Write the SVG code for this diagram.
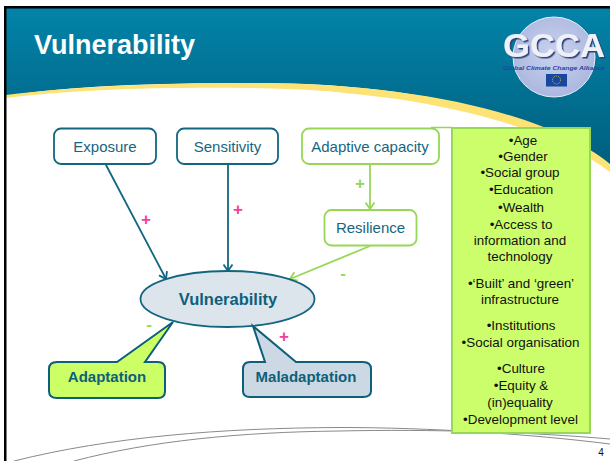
<svg xmlns="http://www.w3.org/2000/svg" width="610" height="461" viewBox="0 0 610 461">
<style>
text{font-family:"Liberation Sans",Arial,sans-serif;text-anchor:middle}
.lbl{font-size:15px;fill:#17667f}
.bold{font-size:15px;font-weight:bold;fill:#0e5f7a}
.list{font-size:13.4px;fill:#111}
.box{fill:#fff;stroke-width:1.8}
.teal{stroke:#13667f}
.green{stroke:#96d756}
.plus{font-size:17px;font-weight:bold;fill:#f83ba0}
.minus{font-size:17px;font-weight:bold;fill:#9cdb5c}
.cl{fill:none;stroke-width:1.8}
</style>
<defs>
<linearGradient id="band" x1="0" y1="0" x2="0" y2="1"><stop offset="0" stop-color="#0383a8"/><stop offset="1" stop-color="#005f7f"/></linearGradient>
<radialGradient id="globe" cx="0.5" cy="0.45" r="0.6"><stop offset="0" stop-color="#c9d2ee"/><stop offset="1" stop-color="#a9b5de"/></radialGradient>
<filter id="sh" x="-10%" y="-10%" width="120%" height="130%"><feDropShadow dx="1.500" dy="1.500" stdDeviation="0.300" flood-color="#2f3f78"/></filter>
<marker id="at" markerUnits="userSpaceOnUse" markerWidth="14" markerHeight="14" refX="10" refY="6" orient="auto"><path d="M3.500 1.500 L10 6 L3.500 10.500" fill="none" stroke="#13667f" stroke-width="1.800"/></marker>
<marker id="ag" markerUnits="userSpaceOnUse" markerWidth="14" markerHeight="14" refX="10" refY="6" orient="auto"><path d="M3.500 1.500 L10 6 L3.500 10.500" fill="none" stroke="#96d756" stroke-width="1.800"/></marker>
</defs>
<rect width="610" height="461" fill="#fff"/>
<path d="M6 8 H610 V165 C550 118 420 82 250 83 C150 83 70 86 6 96 Z" fill="url(#band)"/>
<path d="M6 95 C70 87 150 83 250 83 C420 83 550 115 610 164 V172 C550 126 420 90 250 88 C150 87 70 90 6 98 Z" fill="#fde375"/>
<rect x="4" y="6" width="606" height="2.500" fill="#000"/>
<rect x="4" y="6" width="2.500" height="455" fill="#000"/>
<text x="34" y="54" style="text-anchor:start;font-size:27px;font-weight:bold;fill:#fff">Vulnerability</text>
<g id="logo">
<ellipse cx="554" cy="57" rx="41" ry="40" fill="url(#globe)" stroke="#e8ecf8"/>
<text x="554" y="57" filter="url(#sh)" style="font-size:33px;font-weight:bold;fill:#eef1f7" textLength="102" lengthAdjust="spacingAndGlyphs">GCCA</text>
<text x="554" y="70" style="font-size:5px;font-style:italic;font-weight:bold;fill:#2f3fa0" textLength="102" lengthAdjust="spacingAndGlyphs">Global Climate Change Alliance</text>
<rect x="546" y="74" width="21" height="12.500" fill="#17479e"/>
<circle cx="556.500" cy="80" r="4" fill="none" stroke="#c9c24a" stroke-dasharray="1 1"/>
</g>
<g id="footer" fill="none" stroke="#8a8a8a" stroke-width="1">
<path d="M14 461 C110 437 220 428 340 427.500 C430 427.500 530 434 610 444"/>
<path d="M74 461 C150 441 240 432 340 431 C430 429 530 432 610 439"/>
</g>
<text x="601" y="456" style="font-size:10px;fill:#111">4</text>
<g id="connectors">
<path class="cl teal" d="M105.500 164 L166 279" marker-end="url(#at)"/>
<path class="cl teal" d="M228 164 V271" marker-end="url(#at)"/>
<path class="cl green" d="M370 164 V209" marker-end="url(#ag)"/>
<path class="cl green" d="M370 246 L290 279" marker-end="url(#ag)"/>
</g>
<text class="plus" x="146" y="225">+</text>
<text class="plus" x="238" y="215">+</text>
<text class="minus" x="360" y="189" style="fill:#96d756">+</text>
<text class="minus" x="343" y="279">-</text>
<text class="minus" x="149" y="330">-</text>
<text class="plus" x="284" y="342">+</text>
<g id="exposure"><rect class="box teal" x="54" y="128.500" width="102" height="35.500" rx="7"/><text class="lbl" x="105" y="152">Exposure</text></g>
<g id="sensitivity"><rect class="box teal" x="177" y="128.500" width="101" height="35.500" rx="7"/><text class="lbl" x="227.500" y="152">Sensitivity</text></g>
<g id="adaptive-capacity"><rect class="box green" x="302" y="128.500" width="137" height="35.500" rx="7"/><text class="lbl" x="370" y="152">Adaptive capacity</text></g>
<g id="resilience"><rect class="box green" x="324.500" y="210" width="92" height="35.500" rx="7"/><text class="lbl" x="370.500" y="233">Resilience</text></g>
<g id="vulnerability"><ellipse cx="227.500" cy="299" rx="87" ry="28" fill="#dce4ec" stroke="#13667f" stroke-width="1.800"/><text class="bold" x="228" y="305" style="font-size:16.500px">Vulnerability</text></g>
<g id="adaptation"><path d="M57 362 H117 L173 322 L145 362 H158 Q165 362 165 369 V391 Q165 398 158 398 H57 Q49 398 49 391 V369 Q49 362 57 362 Z" fill="#ccfe66" stroke="#0e5f7a" stroke-width="2"/><text class="bold" x="107" y="382">Adaptation</text></g>
<g id="maladaptation"><path d="M250 362 H265 L253 326 L296 362 H363 Q371 362 371 369 V391 Q371 397 363 397 H250 Q243 397 243 391 V369 Q243 362 250 362 Z" fill="#ccd9e4" stroke="#0e5f7a" stroke-width="2"/><text class="bold" x="306" y="382">Maladaptation</text></g>
<g id="factors">
<path d="M431 127.500 H452" stroke="#96d756" stroke-width="1.500"/>
<rect x="452" y="128" width="138" height="305" fill="#ccfe6b" stroke="#96d756" stroke-width="2"/>
<text class="list" x="523" y="145">•Age</text>
<text class="list" x="523" y="161">•Gender</text>
<text class="list" x="520" y="177">•Social group</text>
<text class="list" x="521" y="194">•Education</text>
<text class="list" x="521" y="212">•Wealth</text>
<text class="list" x="521" y="229">•Access to</text>
<text class="list" x="520" y="245">information and</text>
<text class="list" x="520" y="261">technology</text>
<text class="list" x="521" y="288">•‘Built’ and ‘green’</text>
<text class="list" x="520" y="304">infrastructure</text>
<text class="list" x="521" y="330">•Institutions</text>
<text class="list" x="520.500" y="347">•Social organisation</text>
<text class="list" x="521" y="373">•Culture</text>
<text class="list" x="521" y="390">•Equity &amp;</text>
<text class="list" x="520" y="407">(in)equality</text>
<text class="list" x="520.500" y="424">•Development level</text>
</g>
</svg>
